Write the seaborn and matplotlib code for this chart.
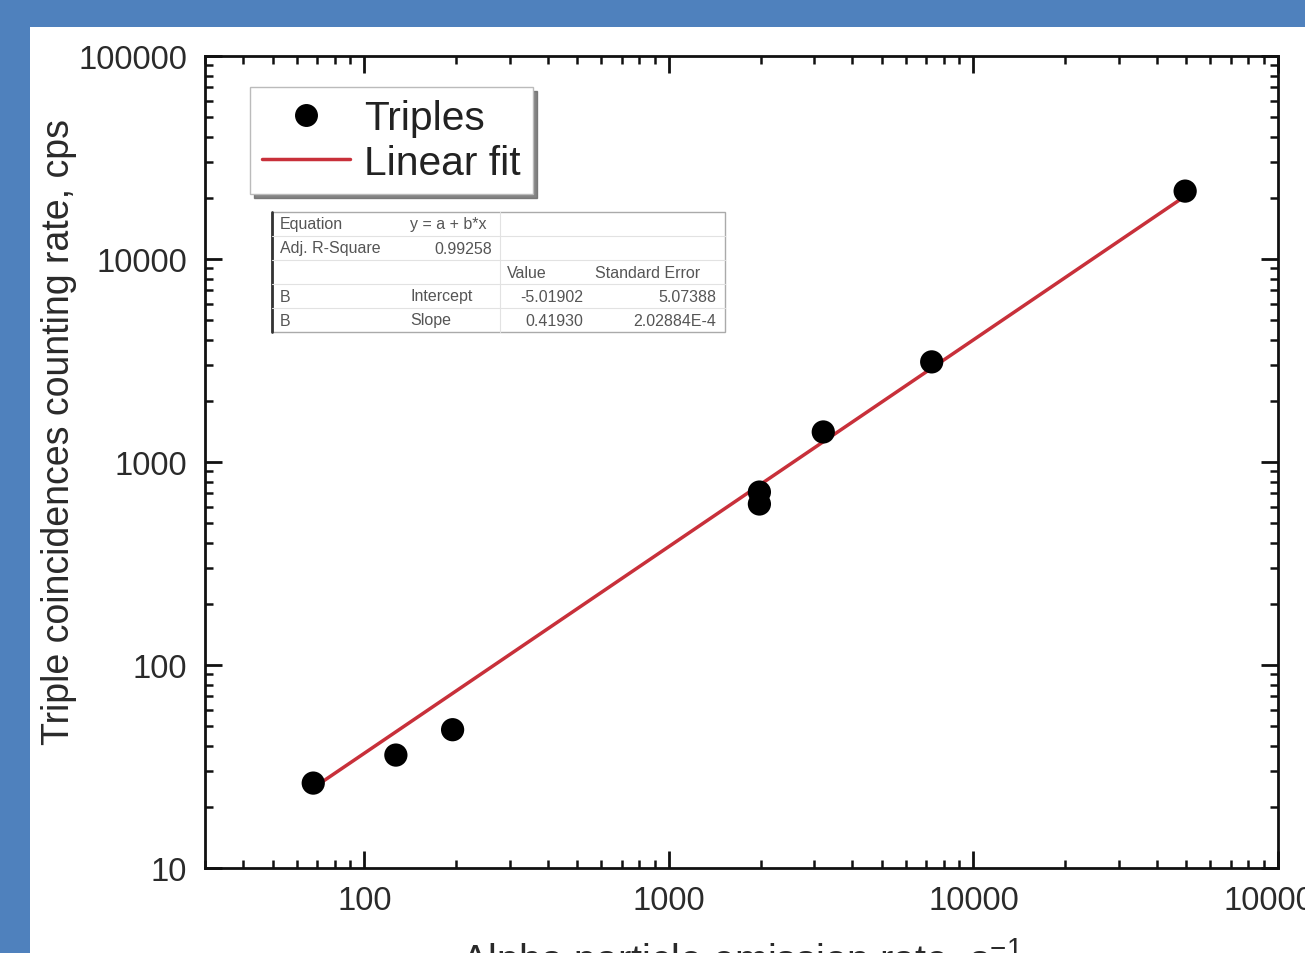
import numpy as np
import pandas as pd
import matplotlib
matplotlib.use("Agg")
import matplotlib.pyplot as plt
from matplotlib.patches import Rectangle
from matplotlib.lines import Line2D
from matplotlib.ticker import LogLocator, FixedLocator, FixedFormatter, NullFormatter
import seaborn as sns

# ---- data ----
alpha_rate = [68, 127, 195, 1983, 1983, 3214, 7295, 49560]
triples = [26.2, 36, 48, 711, 621, 1406, 3113, 21600]
# fitted line as drawn (end points)
fit_x = [68, 49560]
fit_y = [24.8, 20400]
x_ticks = [100, 1000, 10000, 100000]
x_tick_labels = ["100", "1000", "10000", "100000"]
y_ticks = [10, 100, 1000, 10000, 100000]
y_tick_labels = ["10", "100", "1000", "10000", "100000"]
table_rows = [
    ["Equation", "y = a + b*x", "", ""],
    ["Adj. R-Square", "0.99258", "", ""],
    ["", "", "Value", "Standard Error"],
    ["B", "Intercept", "-5.01902", "5.07388"],
    ["B", "Slope", "0.41930", "2.02884E-4"],
]

sns.set_theme(style="ticks")
plt.rcParams["font.family"] = ["Liberation Sans", "DejaVu Sans"]
plt.rcParams["mathtext.fontset"] = "custom"
plt.rcParams["mathtext.rm"] = "Liberation Sans"

fig = plt.figure(figsize=(13.05, 9.54), dpi=100)
fig.patch.set_facecolor("#4F81BD")
fig.patches.append(Rectangle((30 / 1305, 0), 1, 1 - 28 / 954, transform=fig.transFigure,
                             facecolor="white", edgecolor="none", zorder=-10))

L, R, T, B = 205, 1278, 57, 869
ax = fig.add_axes([L / 1305, 1 - B / 954, (R - L) / 1305, (B - T) / 954])
ax.set_zorder(1)
ax.set_facecolor("white")

df = pd.DataFrame({"x": alpha_rate, "y": triples})
fit_df = pd.DataFrame({"x": fit_x, "y": fit_y})

sns.lineplot(data=fit_df, x="x", y="y", ax=ax, color="#C8303A", lw=2.5, zorder=2)
sns.scatterplot(data=df, x="x", y="y", ax=ax, color="black", s=280, edgecolor="none", zorder=3)

ax.set_xscale("log")
ax.set_yscale("log")
ax.set_xlim(30, 100000)
ax.set_ylim(10, 100000)

ax.xaxis.set_major_locator(FixedLocator(x_ticks))
ax.xaxis.set_major_formatter(FixedFormatter(x_tick_labels))
ax.yaxis.set_major_locator(FixedLocator(y_ticks))
ax.yaxis.set_major_formatter(FixedFormatter(y_tick_labels))
ax.xaxis.set_minor_locator(LogLocator(base=10, subs=np.arange(2, 10)))
ax.yaxis.set_minor_locator(LogLocator(base=10, subs=np.arange(2, 10)))
ax.xaxis.set_minor_formatter(NullFormatter())
ax.yaxis.set_minor_formatter(NullFormatter())

ax.tick_params(which="both", direction="in", top=True, right=True, color="#111111")
ax.tick_params(which="major", length=12, width=2, labelsize=23.5, labelcolor="#2a2a2a")
ax.tick_params(axis="x", which="major", pad=12)
ax.tick_params(axis="y", which="major", pad=13)
ax.tick_params(which="minor", length=6, width=1.8)
for s in ax.spines.values():
    s.set_linewidth(2)
    s.set_color("#111111")

ax.set_xlabel("Alpha particle emission rate, s$^{-1}$", fontsize=28.5, color="#2a2a2a", labelpad=14)
ax.set_ylabel("Triple coincidences counting rate, cps", fontsize=27, color="#2a2a2a")
ax.yaxis.set_label_coords((77 - L) / (R - L), (B - 432) / (B - T))

handles = [
    Line2D([], [], marker="o", ls="none", color="black", markersize=15.5),
    Line2D([], [], color="#C8303A", lw=2.5),
]
leg = ax.legend(handles, ["Triples", "Linear fit"], loc="upper left",
                bbox_to_anchor=((250 - L) / (R - L), 1 - (88 - T) / (B - T)),
                borderaxespad=0, fontsize=29.3, frameon=True, fancybox=False,
                shadow={"ox": 3, "oy": -3, "color": "#666666", "alpha": 0.8},
                framealpha=1, edgecolor="#bbbbbb", handlelength=2.16,
                handletextpad=0.34, borderpad=0.3, labelspacing=0.16)
for t in leg.get_texts():
    t.set_color("#222222")


def fx(px):
    return (px - L) / (R - L)


def fy(py):
    return (B - py) / (B - T)


tl, tr, tt, tb = 272, 725, 213, 333
ax.add_patch(Rectangle((fx(tl), fy(tb)), fx(tr) - fx(tl), fy(tt) - fy(tb),
                       transform=ax.transAxes, facecolor="white", edgecolor="#aaaaaa",
                       lw=1, zorder=5))
ax.plot([fx(tl), fx(tl)], [fy(tt), fy(tb)], transform=ax.transAxes, color="#333333", lw=2, zorder=6)
row_h = (tb - tt) / 5
for i in range(1, 5):
    yy = tt + i * row_h
    ax.plot([fx(tl), fx(tr)], [fy(yy), fy(yy)], transform=ax.transAxes, color="#e2e2e2", lw=0.8, zorder=6)
ax.plot([fx(500), fx(500)], [fy(tt), fy(tb)], transform=ax.transAxes,
        color="#e2e2e2", lw=0.8, zorder=6)

col_pos = [(280, "left"), (410, "left"), (583, "right"), (716, "right")]
for r, row in enumerate(table_rows):
    yc = tt + (r + 0.5) * row_h
    for c, txt in enumerate(row):
        if not txt:
            continue
        x0, ha = col_pos[c]
        if r == 1 and c == 1:
            x0, ha = 492, "right"
        if r == 2 and c == 2:
            x0, ha = 507, "left"
        if r == 2 and c == 3:
            x0, ha = 595, "left"
        ax.text(fx(x0), fy(yc), txt, transform=ax.transAxes, ha=ha, va="center",
                fontsize=11.5, color="#555555", zorder=7)

fig.savefig("out.png", dpi=100, facecolor=fig.get_facecolor())
